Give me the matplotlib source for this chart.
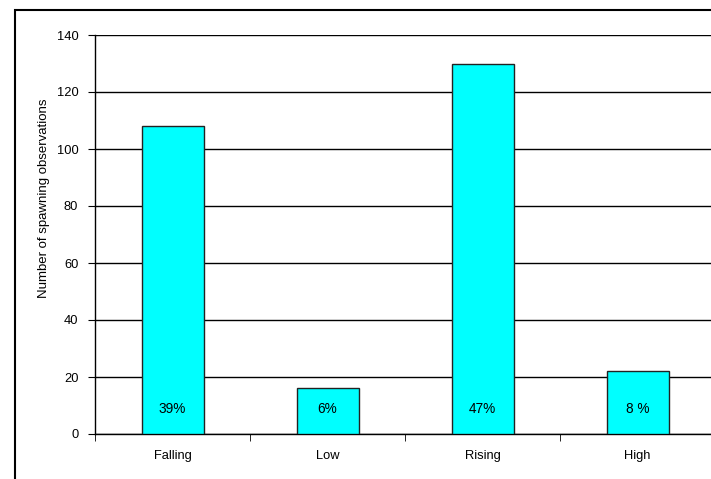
import matplotlib
matplotlib.use("Agg")
from matplotlib import pyplot as plt
from matplotlib.patches import Rectangle
import numpy as np

plt.rcParams['font.family'] = ['Liberation Sans', 'DejaVu Sans']

categories = ['Falling', 'Low', 'Rising', 'High']
counts = [108, 16, 130, 22]
pct_labels = ['39%', '6%', '47%', '8 %']

fig = plt.figure(figsize=(7.11, 4.79), dpi=100)
# outer chart border (right/bottom edges run off the image)
fig.patches.append(Rectangle((15/711, -0.1), 1.1, (479-10)/479 + 0.1, transform=fig.transFigure,
                             fill=False, edgecolor='black', linewidth=1.5, zorder=0))
ax = fig.add_axes([95/711, 45/479, 620/711, 399/479])

x = np.arange(len(categories))
ax.bar(x, counts, width=0.4, color='#00FFFF', edgecolor='#222222', linewidth=1, zorder=3)
for xi, lab in zip(x, pct_labels):
    ax.text(xi, 8.8, lab, ha='center', va='center', fontsize=9.8, zorder=4)

ax.set_xlim(-0.5, 3.5)
ax.set_ylim(0, 140)
ax.set_yticks(np.arange(0, 141, 20))
ax.yaxis.grid(True, color='black', linewidth=1, zorder=0)
ax.set_xticks(x)
ax.set_xticklabels(categories, fontsize=9.3)
ax.tick_params(axis='x', length=0, pad=11.5)
ax.set_xticks([-0.5, 0.5, 1.5, 2.5], minor=True)
ax.tick_params(axis='x', which='minor', length=5, direction='out', color='black')
ax.tick_params(axis='y', length=5, labelsize=9.3, pad=7)
for s in ['top', 'right']:
    ax.spines[s].set_visible(False)
ax.spines['left'].set_linewidth(1)
ax.spines['bottom'].set_linewidth(1)
ax.set_ylabel('Number of spawning observations', fontsize=9.5)
ax.yaxis.set_label_coords(-0.073, 0.591)

fig.savefig('out.png', dpi=100)
